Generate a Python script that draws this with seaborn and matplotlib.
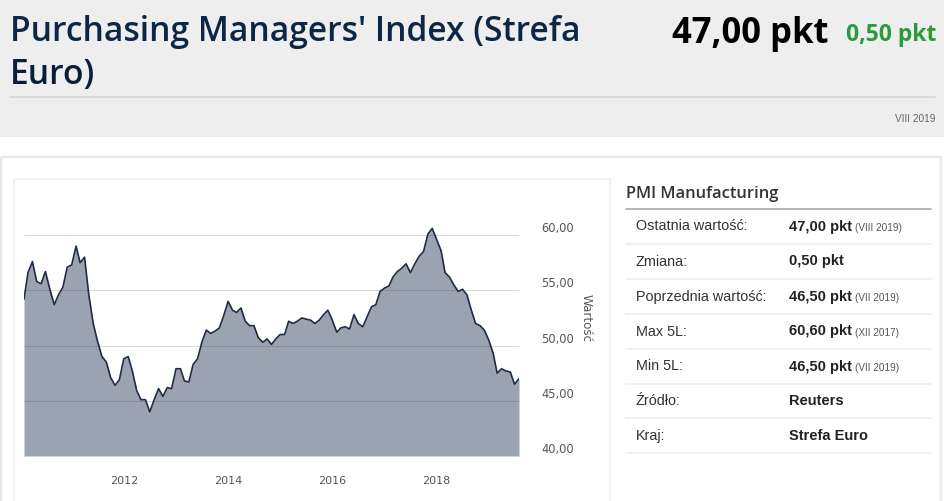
import matplotlib
matplotlib.use("Agg")
import matplotlib.pyplot as plt
import numpy as np
import pandas as pd
import seaborn as sns
from matplotlib.patches import Rectangle

# ---------------- data ----------------
start_month = "2010-02-01"
pmi_values = [
    54.2, 56.6, 57.6, 55.8, 55.6, 56.7, 55.1, 53.7, 54.6, 55.3, 57.1,            # 2010 (II-XII)
    57.3, 59.0, 57.5, 58.0, 54.6, 52.0, 50.4, 49.0, 48.5, 47.1, 46.4, 46.9,      # 2011
    48.8, 49.0, 47.7, 45.9, 45.1, 45.1, 44.0, 45.1, 46.1, 45.4, 46.2, 46.1,      # 2012
    47.9, 47.9, 46.8, 46.7, 48.3, 48.8, 50.3, 51.4, 51.1, 51.3, 51.6, 52.7,      # 2013
    54.0, 53.2, 53.0, 53.4, 52.2, 51.8, 51.8, 50.7, 50.3, 50.6, 50.1, 50.6,      # 2014
    51.0, 51.0, 52.2, 52.0, 52.2, 52.5, 52.4, 52.3, 52.0, 52.3, 52.8, 53.2,      # 2015
    52.3, 51.2, 51.6, 51.7, 51.5, 52.8, 52.0, 51.7, 52.6, 53.5, 53.7, 54.9,      # 2016
    55.2, 55.4, 56.2, 56.7, 57.0, 57.4, 56.6, 57.4, 58.1, 58.5, 60.1, 60.6,      # 2017
    59.6, 58.6, 56.6, 56.2, 55.5, 54.9, 55.1, 54.6, 53.2, 52.0, 51.8, 51.4,      # 2018
    50.5, 49.3, 47.5, 47.9, 47.7, 47.6, 46.5, 47.0,                              # 2019 (I-VIII)
]
y_ticks = [40, 45, 50, 55, 60]
y_tick_labels = ["40,00", "45,00", "50,00", "55,00", "60,00"]
x_tick_years = [2012, 2014, 2016, 2018]
y_axis_title = "Wartość"

title_line1 = "Purchasing Managers' Index (Strefa"
title_line2 = "Euro)"
headline_value = "47,00 pkt"
headline_change = "0,50 pkt"
headline_date = "VIII 2019"

table_title = "PMI Manufacturing"
row_labels = ["Ostatnia wartość:", "Zmiana:", "Poprzednia wartość:", "Max 5L:",
              "Min 5L:", "Źródło:", "Kraj:"]
row_values = ["47,00 pkt", "0,50 pkt", "46,50 pkt", "60,60 pkt", "46,50 pkt",
              "Reuters", "Strefa Euro"]
row_notes = ["(VIII 2019)", "", "(VII 2019)", "(XII 2017)", "(VII 2019)", "", ""]

# ---------------- figure ----------------
sns.set_style("white")
plt.rcParams["font.family"] = ["DejaVu Sans"]

W, H = 945, 501
fig = plt.figure(figsize=(W / 100, H / 100), dpi=100, facecolor="white")
renderer = fig.canvas.get_renderer()
PX = 0.72  # points per pixel

bg = fig.add_axes([0, 0, 1, 1], zorder=0)
bg.set_xlim(0, W)
bg.set_ylim(H, 0)
bg.axis("off")

# header block
bg.add_patch(Rectangle((0, 0), W, 137, fc="#eeeeee", ec="none"))
bg.plot([10, 935], [97, 97], color="#d3d3d3", lw=1.5 * PX)
# panel borders
bg.add_patch(Rectangle((1, 156.5), 940, 400, fc="none", ec="#e9e9e9", lw=2.5 * PX))
bg.add_patch(Rectangle((13.5, 178.5), 596.5, 400, fc="none", ec="#eeeeee", lw=1.5 * PX))


def fit_text(s, x, y, width, **kw):
    t = bg.text(x, y, s, fontsize=20, **kw)
    w = t.get_window_extent(renderer).width
    t.set_fontsize(20 * width / w)
    return t


t1 = fit_text(title_line1, 10, 41, 570, ha="left", va="baseline",
              family="Open Sans", weight="semibold", color="#0c2646")
bg.text(10, 84, title_line2, ha="left", va="baseline", family="Open Sans",
        weight="semibold", fontsize=t1.get_fontsize(), color="#0a1e38")
fit_text(headline_value, 829, 43, 156, ha="right", va="baseline",
         family="Open Sans", weight="bold", color="#000000")
fit_text(headline_change, 936, 41, 90, ha="right", va="baseline",
         family="Open Sans", weight="bold", color="#2a9b3b")
bg.text(935, 119, headline_date, ha="right", va="center",
        family="Liberation Sans", fontsize=7.3, color="#666666")

# ---------------- table ----------------
fit_text(table_title, 626, 197.5, 153, ha="left", va="baseline",
         family="Open Sans", weight="semibold", color="#333333")
bg.plot([626, 931], [208.5, 208.5], color="#a8a8a8", lw=1.6 * PX)
row_y = [226.5, 261.5, 296.5, 331.5, 366.5, 401, 436]
sep_y = [244, 279, 314, 349, 383.5, 418, 452.5]
for yy in sep_y:
    bg.plot([626, 931], [yy, yy], color="#ececec", lw=1.5 * PX)
for lab, val, note, yy in zip(row_labels, row_values, row_notes, row_y):
    bg.text(636, yy, lab, ha="left", va="center", family="Liberation Sans",
            fontsize=10.4, color="#333333")
    tv = bg.text(789, yy, val, ha="left", va="center", family="Liberation Sans",
                 fontsize=10.5, weight="bold", color="#222222")
    if note:
        bg.annotate(note, xy=(1, 0.5), xycoords=tv, xytext=(2.5, -0.8),
                    textcoords="offset points", ha="left", va="center",
                    family="Liberation Sans", fontsize=7.2, color="#555555")

# ---------------- chart ----------------
dates = pd.date_range(start_month, periods=len(pmi_values), freq="MS")
df = pd.DataFrame({"date": dates, "pmi": pmi_values})

ymin, ymax = 40, 62
ax = fig.add_axes([24 / W, (H - 456) / H, 495 / W, (456 - 213) / H], zorder=2)
ax.set_facecolor("none")
ax.fill_between(df["date"], df["pmi"], ymin, color="#1d2f4f", alpha=0.44, lw=0, zorder=1)
sns.lineplot(data=df, x="date", y="pmi", ax=ax, color="#1f2c45", lw=1.2, zorder=3)

ax.set_xlim(dates[0], dates[-1])
ax.set_ylim(ymin, ymax)
ax.set_axisbelow(True)
ax.yaxis.grid(True, color="#d9d9d9", lw=1.0 * PX)
ax.xaxis.grid(False)
for s in ax.spines.values():
    s.set_visible(False)
ax.spines["bottom"].set_position(("outward", 10 * PX))

ax.set_xticks([pd.Timestamp(f"{y}-01-01") for y in x_tick_years])
ax.set_xticklabels([str(y) for y in x_tick_years])
ax.tick_params(axis="x", direction="out", length=6 * PX, width=1, color="#ccd6eb",
               pad=3, labelsize=8, labelcolor="#555555")

ax.yaxis.tick_right()
ax.set_yticks(y_ticks)
ax.set_yticklabels(y_tick_labels)
ax.tick_params(axis="y", length=0, pad=16, labelsize=8.3, labelcolor="#555555")
plt.setp(ax.get_yticklabels(), va="bottom")
ax.set_xlabel("")
ax.set_ylabel("")
bg.text(586, 318, y_axis_title, rotation=270, ha="center", va="center",
        fontsize=8.6, color="#555555")

fig.savefig("out.png", dpi=100, facecolor="white")
